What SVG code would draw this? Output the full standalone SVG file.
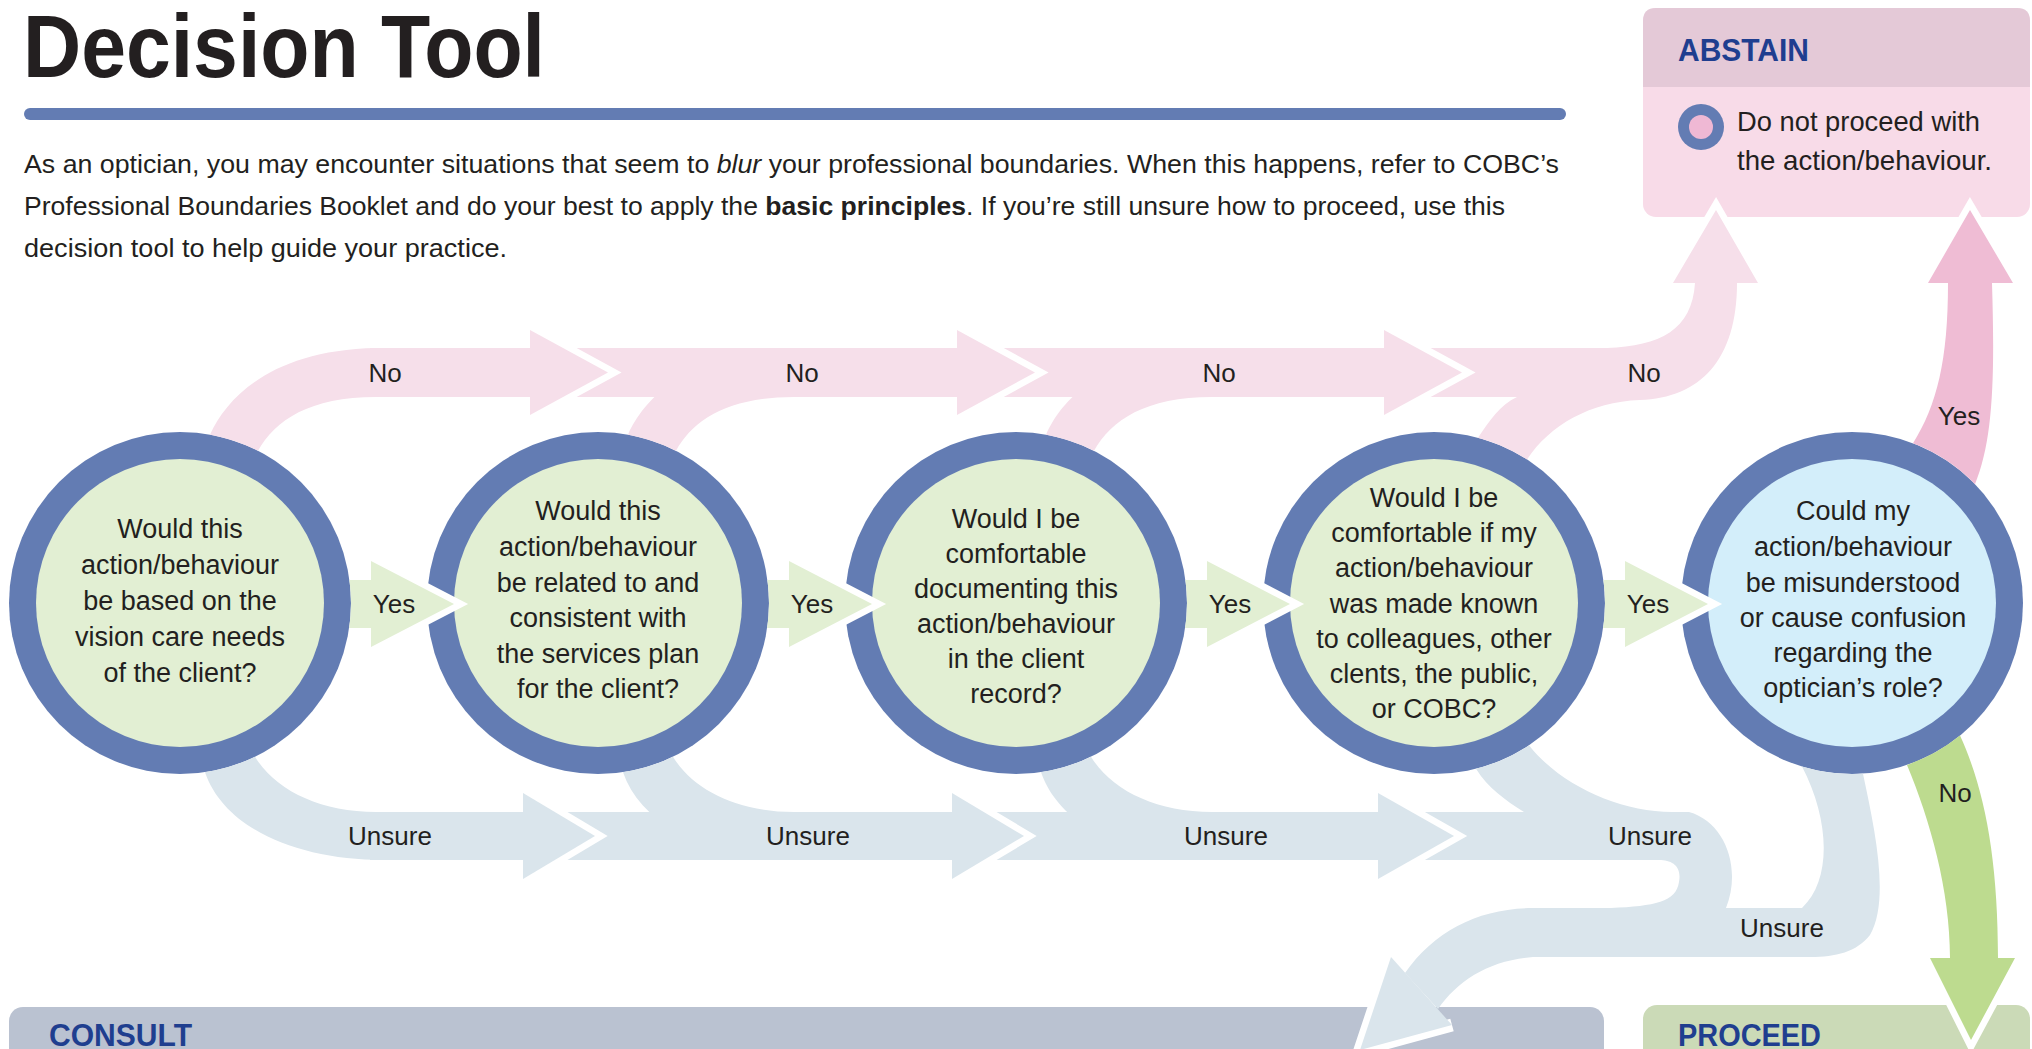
<svg xmlns="http://www.w3.org/2000/svg" width="2032" height="1049" viewBox="0 0 2032 1049">
<style>
.t{font-family:"Liberation Sans",Arial,sans-serif;fill:#231f20}
.qt{font-family:"Liberation Sans",Arial,sans-serif;font-size:27px;fill:#231f20;text-anchor:middle}
.lb{font-family:"Liberation Sans",Arial,sans-serif;font-size:26px;fill:#231f20;text-anchor:middle}
.hd{font-family:"Liberation Sans",Arial,sans-serif;font-weight:bold;font-size:31px;fill:#1f3e8f}
.ring{fill:#637cb3}
.qg{fill:#e2efd3}
.qb{fill:#d3eefa}
.pk{fill:#f6dfea}
.pk2{fill:#efbcd4}
.un{fill:#dae5ec}
.ys{fill:#e2efd3}
.gn{fill:#bddb8f}
.wo{fill:none;stroke:#fff;stroke-width:13;stroke-linejoin:miter;stroke-miterlimit:10}
</style>

<g id="header">
  <text class="t" x="23" y="77" font-size="89" font-weight="bold" textLength="522" lengthAdjust="spacingAndGlyphs">Decision Tool</text>
  <rect x="24" y="108" width="1542" height="12" rx="6" fill="#637cb3"/>
  <text class="t" x="24" y="173" font-size="26" textLength="1535" lengthAdjust="spacingAndGlyphs">As an optician, you may encounter situations that seem to <tspan font-style="italic">blur</tspan> your professional boundaries. When this happens, refer to COBC’s</text>
  <text class="t" x="24" y="215" font-size="26" textLength="1481" lengthAdjust="spacingAndGlyphs">Professional Boundaries Booklet and do your best to apply the <tspan font-weight="bold">basic principles</tspan>. If you’re still unsure how to proceed, use this</text>
  <text class="t" x="24" y="257" font-size="26" textLength="483" lengthAdjust="spacingAndGlyphs">decision tool to help guide your practice.</text>
</g>

<g id="abstain">
  <rect x="1643" y="8" width="387" height="209" rx="13" fill="#f8dbe8"/>
  <path d="M1643 87 V21 Q1643 8 1656 8 H2017 Q2030 8 2030 21 V87 Z" fill="#e4c9d7"/>
  <text class="hd" x="1678" y="61" textLength="131" lengthAdjust="spacingAndGlyphs">ABSTAIN</text>
  <circle cx="1701" cy="127" r="23" fill="#637cb3"/>
  <circle cx="1701" cy="127" r="12" fill="#efb8d4"/>
  <text class="t" x="1737" y="131" font-size="28" textLength="243" lengthAdjust="spacingAndGlyphs">Do not proceed with</text>
  <text class="t" x="1737" y="170" font-size="28" textLength="255" lengthAdjust="spacingAndGlyphs">the action/behaviour.</text>
</g>

<g id="consult">
  <rect x="9" y="1007" width="1595" height="80" rx="14" fill="#bac2d1"/>
  <text class="hd" x="49" y="1046" font-size="28" textLength="143" lengthAdjust="spacingAndGlyphs">CONSULT</text>
</g>

<g id="proceed">
  <rect x="1643" y="1005" width="387" height="80" rx="14" fill="#cbdab7"/>
  <text class="hd" x="1678" y="1046" font-size="28" textLength="143" lengthAdjust="spacingAndGlyphs">PROCEED</text>
</g>

<g id="q1">
  <circle class="ring" cx="180" cy="603" r="171"/>
  <circle class="qg" cx="180" cy="603" r="144"/>
  <text class="qt" x="180" y="538">Would this</text>
  <text class="qt" x="180" y="574">action/behaviour</text>
  <text class="qt" x="180" y="610">be based on the</text>
  <text class="qt" x="180" y="646">vision care needs</text>
  <text class="qt" x="180" y="682">of the client?</text>
</g>

<g id="q2">
  <circle class="ring" cx="598" cy="603" r="171"/>
  <circle class="qg" cx="598" cy="603" r="144"/>
  <text class="qt" x="598" y="520">Would this</text>
  <text class="qt" x="598" y="556">action/behaviour</text>
  <text class="qt" x="598" y="592">be related to and</text>
  <text class="qt" x="598" y="627">consistent with</text>
  <text class="qt" x="598" y="663">the services plan</text>
  <text class="qt" x="598" y="698">for the client?</text>
</g>

<g id="q3">
  <circle class="ring" cx="1016" cy="603" r="171"/>
  <circle class="qg" cx="1016" cy="603" r="144"/>
  <text class="qt" x="1016" y="528">Would I be</text>
  <text class="qt" x="1016" y="563">comfortable</text>
  <text class="qt" x="1016" y="598">documenting this</text>
  <text class="qt" x="1016" y="633">action/behaviour</text>
  <text class="qt" x="1016" y="668">in the client</text>
  <text class="qt" x="1016" y="703">record?</text>
</g>

<g id="q4">
  <circle class="ring" cx="1434" cy="603" r="171"/>
  <circle class="qg" cx="1434" cy="603" r="144"/>
  <text class="qt" x="1434" y="507">Would I be</text>
  <text class="qt" x="1434" y="542">comfortable if my</text>
  <text class="qt" x="1434" y="577">action/behaviour</text>
  <text class="qt" x="1434" y="613">was made known</text>
  <text class="qt" x="1434" y="648">to colleagues, other</text>
  <text class="qt" x="1434" y="683">clents, the public,</text>
  <text class="qt" x="1434" y="718">or COBC?</text>
</g>

<g id="q5">
  <circle class="ring" cx="1852" cy="603" r="171"/>
  <circle class="qb" cx="1852" cy="603" r="144"/>
  <text class="qt" x="1853" y="520">Could my</text>
  <text class="qt" x="1853" y="556">action/behaviour</text>
  <text class="qt" x="1853" y="592">be misunderstood</text>
  <text class="qt" x="1853" y="627">or cause confusion</text>
  <text class="qt" x="1853" y="662">regarding the</text>
  <text class="qt" x="1853" y="697">optician’s role?</text>
</g>

<g id="connectors">
  <!-- No branches and bands -->
  <path class="pk" d="M210 434.65 C228 395 275 350 376 348 L380 348 L380 397 L376 397 C310 397 275 420 258 450.83 A171 171 0 0 0 210 434.65 Z"/>
  <path class="pk" d="M628 434.65 C646 395 693 350 794 348 L798 348 L798 397 L794 397 C728 397 693 420 676 450.83 A171 171 0 0 0 628 434.65 Z"/>
  <path class="pk" d="M1046 434.65 C1064 395 1111 350 1212 348 L1216 348 L1216 397 L1212 397 C1146 397 1111 420 1094 450.83 A171 171 0 0 0 1046 434.65 Z"/>
  <rect class="pk" x="370" y="348" width="161" height="49"/>
  <rect class="pk" x="550" y="348" width="408" height="49"/>
  <rect class="pk" x="977" y="348" width="408" height="49"/>
  <polyline class="wo" points="1673,283 1716,210 1758,283"/>
  <path class="pk" d="M1404 348 L1607 348 C1660 346 1692 330 1695 283 L1673 283 L1716 210 L1758 283 L1737 283 C1737 360 1700 398 1640 400 C1590 402 1550 425 1527 459.5 A171 171 0 0 0 1478 437.76 C1490 420 1500 405 1517 397 L1404 397 Z"/>

  <!-- Unsure branches and bands -->
  <path class="un" d="M205 772.16 C225 830 300 860 383 860 L385 860 L385 812 L376 812 C320 812 275 790 255 756.68 A171 171 0 0 1 205 772.16 Z"/>
  <path class="un" d="M623 772.16 C643 830 718 860 801 860 L803 860 L803 812 L794 812 C738 812 693 790 673 756.68 A171 171 0 0 1 623 772.16 Z"/>
  <path class="un" d="M1041 772.16 C1061 830 1136 860 1219 860 L1221 860 L1221 812 L1212 812 C1156 812 1111 790 1091 756.68 A171 171 0 0 1 1041 772.16 Z"/>
  <rect class="un" x="370" y="812" width="154" height="48"/>
  <rect class="un" x="543" y="812" width="410" height="48"/>
  <rect class="un" x="972" y="812" width="407" height="48"/>
  <polyline class="wo" points="1391,957 1360,1050 1452,1025"/>
  <path class="un" d="M1398 812 L1524 812 C1505 800 1488 788 1476 768.76 A171 171 0 0 0 1529 745.18 C1560 785 1620 812 1672 812 L1689 812 C1725 822 1742 868 1726 908 L1802 908 C1832 880 1830 820 1802 766.53 A171 171 0 0 0 1863 773.65 C1875 830 1890 900 1870 935 C1857 952 1835 957 1811 957 L1533 957 C1490 960 1458 980 1438 1009 L1405 973 C1435 930 1480 908 1533 908 L1611 908 C1655 906 1676 902 1679 882 C1682 866 1672 860 1659 860 L1398 860 Z"/>
  <polygon class="un" points="1391,957 1360,1050 1452,1025"/>

  <!-- Heads of No arrows -->
  <polyline class="wo" points="530,330 608,372.5 530,415"/>
  <polygon class="pk" points="530,330 608,372.5 530,415"/>
  <polyline class="wo" points="957,330 1035,372.5 957,415"/>
  <polygon class="pk" points="957,330 1035,372.5 957,415"/>
  <polyline class="wo" points="1384,330 1462,372.5 1384,415"/>
  <polygon class="pk" points="1384,330 1462,372.5 1384,415"/>

  <!-- Heads of Unsure arrows -->
  <polyline class="wo" points="523,793 595,836 523,879"/>
  <polygon class="un" points="523,793 595,836 523,879"/>
  <polyline class="wo" points="952,793 1024,836 952,879"/>
  <polygon class="un" points="952,793 1024,836 952,879"/>
  <polyline class="wo" points="1378,793 1454,836 1378,879"/>
  <polygon class="un" points="1378,793 1454,836 1378,879"/>

  <!-- Yes arrows -->
  <polyline class="wo" points="371,561 454,604 371,647"/>
  <path class="ys" d="M349.45 580 L371 580 L371 561 L454 604 L371 647 L371 628 L349.16 628 A171 171 0 0 0 349.45 580 Z"/>
  <polyline class="wo" points="789,561 872,604 789,647"/>
  <path class="ys" d="M767.45 580 L789 580 L789 561 L872 604 L789 647 L789 628 L767.16 628 A171 171 0 0 0 767.45 580 Z"/>
  <polyline class="wo" points="1207,561 1290,604 1207,647"/>
  <path class="ys" d="M1185.45 580 L1207 580 L1207 561 L1290 604 L1207 647 L1207 628 L1185.16 628 A171 171 0 0 0 1185.45 580 Z"/>
  <polyline class="wo" points="1625,561 1708,604 1625,647"/>
  <path class="ys" d="M1603.45 580 L1625 580 L1625 561 L1708 604 L1625 647 L1625 628 L1603.16 628 A171 171 0 0 0 1603.45 580 Z"/>

  <!-- Yes to Abstain -->
  <polyline class="wo" points="1928,283 1970,210 2013,283"/>
  <path class="pk2" d="M1913 443.3 C1937 405 1948 360 1948 283 L1928 283 L1970 210 L2013 283 L1992 283 C1995 380 1993 440 1975 484.2 A171 171 0 0 0 1913 443.3 Z"/>

  <!-- No to Proceed -->
  <polyline class="wo" points="1930,958 1971,1040 2015,958"/>
  <path class="gn" d="M1907 764.9 C1930 820 1950 890 1950 958 L1930 958 L1971 1040 L2015 958 L1998 958 C1998 860 1985 790 1960 735.6 A171 171 0 0 1 1907 764.9 Z"/>

  <!-- Labels -->
  <text class="lb" x="385" y="382">No</text>
  <text class="lb" x="802" y="382">No</text>
  <text class="lb" x="1219" y="382">No</text>
  <text class="lb" x="1644" y="382">No</text>
  <text class="lb" x="394" y="613">Yes</text>
  <text class="lb" x="812" y="613">Yes</text>
  <text class="lb" x="1230" y="613">Yes</text>
  <text class="lb" x="1648" y="613">Yes</text>
  <text class="lb" x="390" y="845">Unsure</text>
  <text class="lb" x="808" y="845">Unsure</text>
  <text class="lb" x="1226" y="845">Unsure</text>
  <text class="lb" x="1650" y="845">Unsure</text>
  <text class="lb" x="1782" y="937">Unsure</text>
  <text class="lb" x="1959" y="425">Yes</text>
  <text class="lb" x="1955" y="802">No</text>
</g>
</svg>
